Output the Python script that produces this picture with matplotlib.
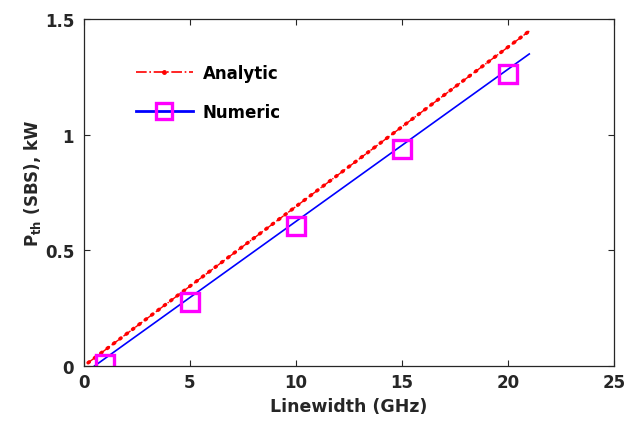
import matplotlib
matplotlib.use('Agg')
import matplotlib.pyplot as plt
from matplotlib.lines import Line2D

# analytic threshold line (end points)
analytic_x = [0.2, 21.0]
analytic_y = [0.014, 1.448]

# numeric fit line (end points) and simulated points
fit_x = [0.5, 21.0]
fit_y = [0.0, 1.349]
numeric_x = [1, 5, 10, 15, 20]
numeric_y = [0.01, 0.277, 0.605, 0.938, 1.262]

xticks = [0, 5, 10, 15, 20, 25]
yticks = [0, 0.5, 1, 1.5]
ytick_labels = ['0', '0.5', '1', '1.5']

plt.rcParams['font.family'] = ['DejaVu Sans']
plt.rcParams['font.weight'] = 'bold'
plt.rcParams['mathtext.default'] = 'bf'

fig = plt.figure(figsize=(6.26, 4.31), dpi=100)
ax = fig.add_axes([0.134, 0.1485, 0.847, 0.805])

ax.plot(analytic_x, analytic_y, color='red', lw=1.0, ls='-.')
ax.plot(analytic_x, analytic_y, color='red', lw=2.6, ls=(0, (0.4, 1.8)),
        dash_capstyle='round')
ax.plot(fit_x, fit_y, color='blue', lw=1.2)
ax.plot(numeric_x, numeric_y, ls='none', marker='s', ms=12.5, mfc='none',
        mec='magenta', mew=2.4)

ax.set_xlim(0, 25)
ax.set_ylim(0, 1.5)
ax.set_xticks(xticks)
ax.set_yticks(yticks)
ax.set_yticklabels(ytick_labels)
ax.tick_params(direction='in', top=True, right=True, labelsize=12,
               colors='#262626', length=4, width=0.8)
ax.tick_params(axis='x', pad=5)
ax.tick_params(axis='y', pad=7)
for s in ax.spines.values():
    s.set_color('#262626')
    s.set_linewidth(0.9)

ax.set_xlabel('Linewidth (GHz)', fontsize=12.5, fontweight='bold', color='#262626')
ax.xaxis.set_label_coords(0.5, -0.09)
ax.set_ylabel(r'P$_{th}$ (SBS), kW', fontsize=12, fontweight='bold',
              color='#262626')
ax.yaxis.set_label_coords(-0.077, 0.53)

handles = [
    Line2D([], [], color='red', ls='-.', lw=1.2, marker='.', ms=5),
    Line2D([], [], color='blue', lw=2, marker='s', ms=11, mfc='none',
           mec='magenta', mew=2.4),
]
ax.legend(handles, ['Analytic', 'Numeric'], loc='upper left',
          bbox_to_anchor=(0.07, 0.915), frameon=False,
          handlelength=3.4, labelspacing=1.3, numpoints=1, handletextpad=0.6,
          prop={'weight': 'bold', 'size': 12})

fig.savefig('out.png', dpi=100)
